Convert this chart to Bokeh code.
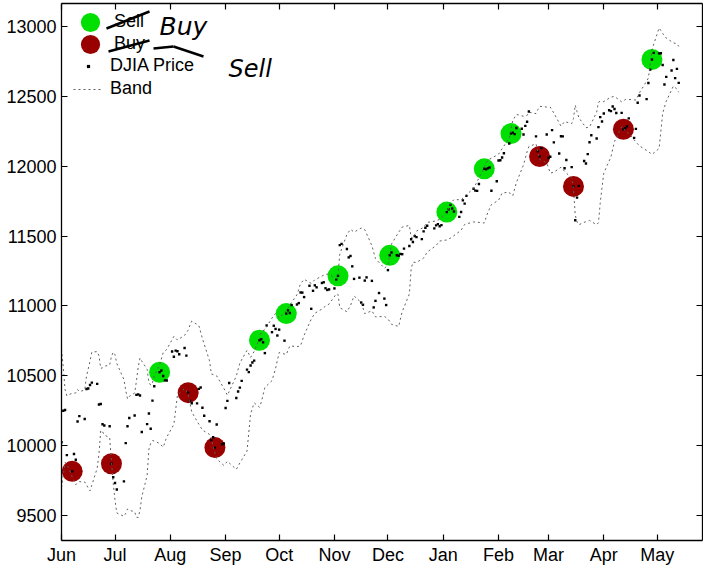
import pandas as pd
from bokeh.plotting import figure
from bokeh.models import (Range1d, FixedTicker, DatetimeAxis, LinearAxis, Legend, LegendItem,
                          DatetimeTickFormatter, Label, Arrow, BasicTickFormatter)
from bokeh.embed import file_html
from bokeh.resources import INLINE

DATES = (
    ["2010-06-%02d" % d for d in [1, 2, 3, 4, 7, 8, 9, 10, 11, 14, 15, 16, 17, 18, 21, 22, 23, 24, 25, 28, 29, 30]]
    + ["2010-07-%02d" % d for d in [1, 2, 6, 7, 8, 9, 12, 13, 14, 15, 16, 19, 20, 21, 22, 23, 26, 27, 28, 29, 30]]
    + ["2010-08-%02d" % d for d in [2, 3, 4, 5, 6, 9, 10, 11, 12, 13, 16, 17, 18, 19, 20, 23, 24, 25, 26, 27, 30, 31]]
    + ["2010-09-%02d" % d for d in [1, 2, 3, 7, 8, 9, 10, 13, 14, 15, 16, 17, 20, 21, 22, 23, 24, 27, 28, 29, 30]]
    + ["2010-10-%02d" % d for d in [1, 4, 5, 6, 7, 8, 11, 12, 13, 14, 15, 18, 19, 20, 21, 22, 25, 26, 27, 28, 29]]
    + ["2010-11-%02d" % d for d in [1, 2, 3, 4, 5, 8, 9, 10, 11, 12, 15, 16, 17, 18, 19, 22, 23, 24, 26, 29, 30]]
    + ["2010-12-%02d" % d for d in [1, 2, 3, 6, 7, 8, 9, 10, 13, 14, 15, 16, 17, 20, 21, 22, 23, 27, 28, 29, 30, 31]]
    + ["2011-01-%02d" % d for d in [3, 4, 5, 6, 7, 10, 11, 12, 13, 14, 18, 19, 20, 21, 24, 25, 26, 27, 28, 31]]
    + ["2011-02-%02d" % d for d in [1, 2, 3, 4, 7, 8, 9, 10, 11, 14, 15, 16, 17, 18, 22, 23, 24, 25, 28]]
    + ["2011-03-%02d" % d for d in [1, 2, 3, 4, 7, 8, 9, 10, 11, 14, 15, 16, 17, 18, 21, 22, 23, 24, 25, 28, 29, 30, 31]]
    + ["2011-04-%02d" % d for d in [1, 4, 5, 6, 7, 8, 11, 12, 13, 14, 15, 18, 19, 20, 21, 25, 26, 27, 28, 29]]
    + ["2011-05-%02d" % d for d in [2, 3, 4, 5, 6, 9, 10, 11, 12, 13]]
)

CLOSE = [
    10024, 10250, 10255, 9932, 9816, 9940, 9899, 10173, 10211, 10191, 10405, 10409, 10434, 10451, 10442, 10294, 10298, 10153, 10144, 10139, 9870, 9774,
    9733, 9686, 9744, 10018, 10139, 10198, 10216, 10363, 10367, 10359, 10098, 10154, 10230, 10121, 10322, 10425, 10525, 10538, 10498, 10467, 10466,
    10674, 10636, 10680, 10675, 10654, 10699, 10644, 10379, 10320, 10303, 10302, 10406, 10416, 10271, 10214, 10174, 10040, 10060, 9986, 10151, 10010, 10015,
    10269, 10320, 10448, 10341, 10387, 10415, 10463, 10544, 10526, 10573, 10595, 10608, 10754, 10761, 10739, 10662, 10860, 10812, 10858, 10835, 10788,
    10830, 10751, 10945, 10968, 10949, 11006, 11010, 11020, 11096, 11095, 11063, 11144, 10979, 11108, 11147, 11133, 11164, 11169, 11126, 11114, 11118,
    11125, 11189, 11215, 11435, 11444, 11407, 11347, 11357, 11283, 11193, 11202, 11024, 11008, 11181, 11204, 11179, 10989, 11036, 11092, 11052, 11006,
    11256, 11362, 11382, 11362, 11359, 11372, 11370, 11410, 11429, 11477, 11457, 11499, 11492, 11478, 11533, 11559, 11573, 11555, 11576, 11585, 11570, 11578,
    11671, 11691, 11723, 11697, 11675, 11637, 11672, 11755, 11732, 11787, 11838, 11825, 11823, 11872, 11981, 11977, 11985, 11990, 11824, 11892,
    12040, 12042, 12062, 12092, 12162, 12233, 12240, 12229, 12273, 12268, 12227, 12288, 12318, 12391, 12213, 12106, 12069, 12130, 12226,
    12058, 12067, 12258, 12170, 12090, 12214, 12213, 11985, 12044, 11993, 11855, 11613, 11775, 11859, 12037, 12019, 12086, 12171, 12221, 12198, 12279, 12351, 12320,
    12377, 12400, 12394, 12427, 12409, 12380, 12381, 12264, 12271, 12285, 12342, 12202, 12267, 12454, 12506, 12480, 12595, 12691, 12763, 12811,
    12807, 12808, 12724, 12584, 12639, 12685, 12760, 12630, 12696, 12596,
]

SELL_DATES = ["2010-07-26", "2010-09-20", "2010-10-05", "2010-11-03", "2010-12-02",
              "2011-01-03", "2011-01-24", "2011-02-08", "2011-04-28"]
SELL_PRICES = [10525, 10754, 10945, 11215, 11362, 11671, 11981, 12233, 12763]

BUY_DATES = ["2010-06-07", "2010-06-29", "2010-08-11", "2010-08-26",
             "2011-02-24", "2011-03-15", "2011-04-12"]
BUY_PRICES = [9816, 9870, 10379, 9986, 12069, 11855, 12264]

BAND_DATES = [
    "2010-06-01", "2010-06-02", "2010-06-03", "2010-06-04", "2010-06-07", "2010-06-08", "2010-06-09", "2010-06-10",
    "2010-06-11", "2010-06-14", "2010-06-15", "2010-06-16", "2010-06-17", "2010-06-18", "2010-06-21", "2010-06-22",
    "2010-06-23", "2010-06-24", "2010-06-25", "2010-06-28", "2010-06-29", "2010-06-30", "2010-07-01", "2010-07-02",
    "2010-07-06", "2010-07-07", "2010-07-08", "2010-07-09", "2010-07-12", "2010-07-13", "2010-07-14", "2010-07-15",
    "2010-07-16", "2010-07-19", "2010-07-20", "2010-07-21", "2010-07-22", "2010-07-23", "2010-07-26", "2010-07-28",
    "2010-07-30", "2010-08-03", "2010-08-05", "2010-08-09", "2010-08-11", "2010-08-12", "2010-08-13", "2010-08-17",
    "2010-08-19", "2010-08-23", "2010-08-24", "2010-08-25", "2010-08-27", "2010-08-31", "2010-09-02", "2010-09-07",
    "2010-09-09", "2010-09-13", "2010-09-15", "2010-09-17", "2010-09-20", "2010-09-21", "2010-09-23", "2010-09-27",
    "2010-09-29", "2010-10-01", "2010-10-05", "2010-10-07", "2010-10-11", "2010-10-13", "2010-10-15", "2010-10-19",
    "2010-10-21", "2010-10-25", "2010-10-27", "2010-10-29", "2010-11-02", "2010-11-03", "2010-11-04", "2010-11-08",
    "2010-11-10", "2010-11-12", "2010-11-16", "2010-11-18", "2010-11-22", "2010-11-24", "2010-11-29", "2010-12-01",
    "2010-12-03", "2010-12-07", "2010-12-09", "2010-12-13", "2010-12-14", "2010-12-15", "2010-12-17", "2010-12-21",
    "2010-12-23", "2010-12-28", "2010-12-30", "2011-01-03", "2011-01-05", "2011-01-07", "2011-01-11", "2011-01-13",
    "2011-01-18", "2011-01-20", "2011-01-24", "2011-01-26", "2011-01-28", "2011-02-01", "2011-02-03", "2011-02-07",
    "2011-02-08", "2011-02-09", "2011-02-11", "2011-02-15", "2011-02-17", "2011-02-18", "2011-02-22", "2011-02-23",
    "2011-02-24", "2011-02-28", "2011-03-02", "2011-03-04", "2011-03-08", "2011-03-10", "2011-03-14", "2011-03-15",
    "2011-03-16", "2011-03-17", "2011-03-18", "2011-03-22", "2011-03-24", "2011-03-28", "2011-03-29", "2011-03-30",
    "2011-03-31", "2011-04-01", "2011-04-05", "2011-04-07", "2011-04-11", "2011-04-12", "2011-04-13", "2011-04-15",
    "2011-04-19", "2011-04-21", "2011-04-26", "2011-04-28", "2011-05-02", "2011-05-04", "2011-05-06", "2011-05-10",
    "2011-05-12", "2011-05-13",
]
BAND_UPPER = [
    10690, 10560, 10400, 10357, 10375, 10375, 10377, 10401, 10386, 10398, 10495, 10549, 10605, 10669, 10673, 10643,
    10553, 10557, 10568, 10577, 10638, 10669, 10650, 10588, 10473, 10396, 10334, 10352, 10376, 10461, 10562, 10627,
    10605, 10546, 10453, 10433, 10450, 10498, 10577, 10665, 10688, 10782, 10756, 10789, 10826, 10863, 10891, 10859,
    10766, 10606, 10513, 10509, 10499, 10410, 10360, 10498, 10592, 10682, 10631, 10674, 10766, 10815, 10829, 10913,
    10945, 10914, 10964, 11006, 11080, 11159, 11190, 11161, 11187, 11213, 11227, 11227, 11193, 11217, 11371, 11511,
    11548, 11528, 11557, 11546, 11431, 11339, 11269, 11293, 11443, 11527, 11564, 11576, 11492, 11484, 11535, 11562,
    11597, 11608, 11620, 11664, 11732, 11761, 11759, 11784, 11841, 11889, 11992, 12046, 12056, 12086, 12125, 12201,
    12271, 12327, 12370, 12357, 12363, 12386, 12376, 12404, 12428, 12423, 12423, 12380, 12286, 12319, 12304, 12341,
    12437, 12390, 12347, 12275, 12280, 12386, 12457, 12464, 12461, 12462, 12494, 12499, 12460, 12466, 12477, 12477,
    12473, 12525, 12630, 12833, 12989, 12950, 12917, 12882, 12877, 12857,
]
BAND_LOWER = [
    9700, 9790, 9880, 9869, 9776, 9751, 9720, 9736, 9742, 9740, 9719, 9697, 9677, 9717, 9838, 9939,
    10109, 10101, 10076, 10057, 9888, 9731, 9610, 9518, 9494, 9516, 9546, 9537, 9527, 9487, 9486, 9537,
    9633, 9786, 9975, 10016, 10036, 10033, 10015, 9989, 10061, 10152, 10361, 10409, 10368, 10303, 10241, 10153,
    10112, 10080, 10052, 9993, 9905, 9858, 9888, 9830, 9876, 9961, 10227, 10306, 10275, 10311, 10416, 10465,
    10552, 10666, 10652, 10714, 10708, 10714, 10790, 10905, 10947, 10977, 10999, 11013, 11085, 11083, 10987, 10958,
    11002, 11071, 11024, 10944, 10965, 10921, 10925, 10907, 10868, 10853, 10959, 11085, 11264, 11312, 11311, 11342,
    11385, 11432, 11464, 11472, 11485, 11503, 11541, 11583, 11601, 11599, 11593, 11669, 11725, 11756, 11808, 11813,
    11793, 11789, 11883, 12009, 12103, 12140, 12160, 12107, 12048, 12024, 11950, 11957, 11992, 11963, 11914, 11837,
    11651, 11600, 11581, 11603, 11611, 11581, 11595, 11735, 11847, 11950, 12066, 12176, 12283, 12275, 12248, 12234,
    12173, 12145, 12104, 12084, 12126, 12378, 12464, 12573, 12552, 12529,
]

MONTH_TICKS = ["2010-06-01", "2010-07-01", "2010-08-01", "2010-09-01", "2010-10-01", "2010-11-01",
               "2010-12-01", "2011-01-01", "2011-02-01", "2011-03-01", "2011-04-01", "2011-05-01"]
MONTH_LABELS = ["Jun", "Jul", "Aug", "Sep", "Oct", "Nov", "Dec", "Jan", "Feb", "Mar", "Apr", "May"]
Y_TICKS = [9500, 10000, 10500, 11000, 11500, 12000, 12500, 13000]

assert len(DATES) == len(CLOSE)
assert len(BAND_DATES) == len(BAND_UPPER) == len(BAND_LOWER)

FONT = "Liberation Sans"
tick_ms = [int(pd.Timestamp(t).value // 10**6) for t in MONTH_TICKS]

p = figure(width=703, height=567, x_axis_type="datetime", output_backend="svg", toolbar_location=None,
           x_range=Range1d(pd.Timestamp("2010-06-01"), pd.Timestamp("2011-05-26 08:00")),
           y_range=Range1d(9321, 13164),
           min_border_left=61, min_border_right=1, min_border_top=3, min_border_bottom=26)
p.xgrid.visible = False
p.ygrid.visible = False
p.outline_line_color = None
p.background_fill_color = "white"
p.border_fill_color = "white"

sell = p.scatter(pd.to_datetime(SELL_DATES), SELL_PRICES, marker="circle", size=21,
                 fill_color="#00e000", line_color=None)
buy = p.scatter(pd.to_datetime(BUY_DATES), BUY_PRICES, marker="circle", size=21,
                fill_color="#990000", line_color=None)
price = p.scatter(pd.to_datetime(DATES), CLOSE, marker="square", size=2.4,
                  fill_color="black", line_color=None)
band_u = p.line(pd.to_datetime(BAND_DATES), BAND_UPPER, line_dash="2 3", line_color="#606060", line_width=1)
band_l = p.line(pd.to_datetime(BAND_DATES), BAND_LOWER, line_dash="2 3", line_color="#606060", line_width=1)


def style_axis(ax, show_labels=True):
    ax.major_tick_in = 6
    ax.major_tick_out = 0
    ax.minor_tick_in = 0
    ax.minor_tick_out = 0
    ax.axis_line_width = 1.3
    ax.axis_line_color = "black"
    ax.major_tick_line_width = 1.2
    ax.major_tick_line_color = "black"
    ax.major_label_text_font = FONT
    ax.major_label_text_color = "black"
    if show_labels:
        ax.major_label_text_font_size = "18px"
    else:
        ax.major_label_text_font_size = "0px"
        ax.major_label_text_alpha = 0
        ax.major_label_text_color = None
        ax.major_label_standoff = 0


xax = p.xaxis[0]
xax.ticker = FixedTicker(ticks=tick_ms)
xax.formatter = DatetimeTickFormatter(months="%b", days="%b")
xax.major_label_overrides = {t: lab for t, lab in zip(tick_ms, MONTH_LABELS)}
style_axis(xax)
xax.major_label_standoff = 4

yax = p.yaxis[0]
yax.ticker = FixedTicker(ticks=Y_TICKS)
yax.formatter = BasicTickFormatter(use_scientific=False)
style_axis(yax)

top = DatetimeAxis(ticker=FixedTicker(ticks=tick_ms))
style_axis(top, show_labels=False)
p.add_layout(top, "above")
right = LinearAxis(ticker=FixedTicker(ticks=Y_TICKS))
style_axis(right, show_labels=False)
p.add_layout(right, "right")

common = dict(padding=0, margin=0, border_line_color=None, background_fill_alpha=0,
              label_text_font=FONT, label_text_font_size="18px", label_text_color="black",
              label_height=20)
big = dict(glyph_width=48, glyph_height=48, label_standoff=0, **common)
p.add_layout(Legend(items=[LegendItem(label="Sell", renderers=[sell])], location=(5, 494.5), **big))
p.add_layout(Legend(items=[LegendItem(label="Buy", renderers=[buy])], location=(5, 472.5), **big))
p.add_layout(Legend(items=[LegendItem(label="DJIA Price", renderers=[price]),
                           LegendItem(label="Band", renderers=[band_u])],
                    location=(12, 441), glyph_width=30, glyph_height=8, label_standoff=7, spacing=2, **common))

# handwritten annotations on top of the legend
hand = dict(x_units="screen", y_units="screen", text_font="DejaVu Sans", text_font_style="italic",
            text_color="black", text_baseline="alphabetic")
p.add_layout(Label(x=98, y=514, text="Buy", text_font_size="25px", **hand))
p.add_layout(Label(x=167, y=472, text="Sell", text_font_size="24px", **hand))
for (x0, y0, x1, y1) in [(45, 512, 88, 529), (47, 489, 88, 500), (92, 492, 112, 494), (112, 494, 142, 484)]:
    p.add_layout(Arrow(x_start=x0, y_start=y0, x_end=x1, y_end=y1, start_units="screen", end_units="screen",
                       start=None, end=None, line_width=2.5, line_color="black"))

open("out.html", "w").write(file_html(p, INLINE))
